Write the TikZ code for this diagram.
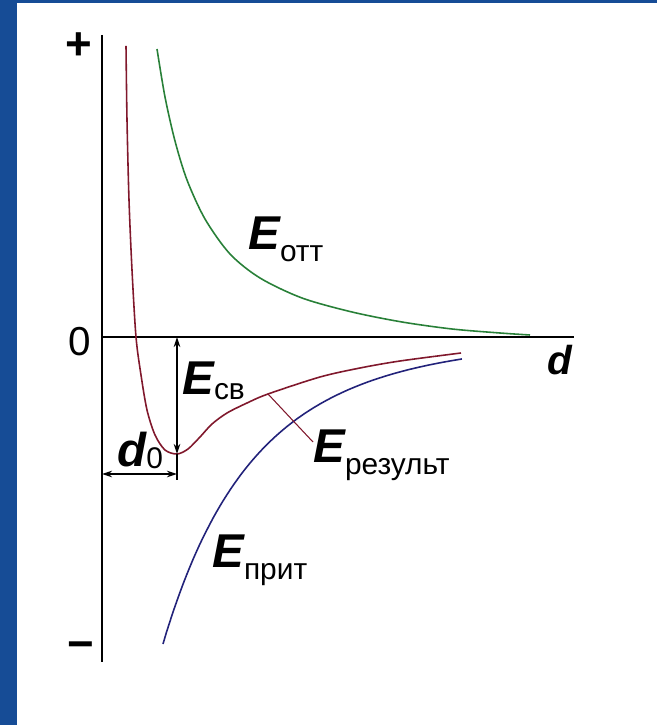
\documentclass[tikz,border=0pt]{standalone}
\usepackage{fontspec}
\setmainfont{Liberation Sans}
\usetikzlibrary{arrows.meta}
\definecolor{fondB}{RGB}{22,76,150}
\definecolor{ottC}{RGB}{40,128,56}
\definecolor{resC}{RGB}{128,24,44}
\definecolor{pritC}{RGB}{34,34,122}
\newcommand{\Egros}{{\fontsize{27}{27}\selectfont\bfseries\itshape E}}
\newcommand{\Eindice}[2]{\Egros\raisebox{-#2}{\fontsize{17}{17}\selectfont #1}}
\tikzset{
  axe/.style={line width=1.1pt, draw=black},
  courbe/.style={line width=0.9pt, draw=#1},
  cote/.style={{Stealth[length=2mm,width=1.3mm]}-{Stealth[length=2mm,width=1.3mm]}, line width=0.7pt},
  etiq/.style={inner sep=0pt, anchor=base west},
  signe/.style={inner sep=0pt, font=\fontsize{26}{26}\selectfont\bfseries},
}
\begin{document}
\begin{tikzpicture}[x=2cm, y=2cm]
  % fond
  \fill[fondB] (-1.02,-3.88) rectangle (5.55,3.37);
  \fill[white] (-0.85,-3.88) rectangle (5.55,3.34);
  \useasboundingbox (-1.02,-3.88) rectangle (5.55,3.37);

  % axes
  \coordinate (o) at (0,0);
  \coordinate (haut) at (0,3.02);
  \coordinate (bas) at (0,-3.25);
  \coordinate (fin) at (4.72,0);
  \draw[axe] (haut) -- (bas);
  \draw[axe] (o) -- (fin);
  \node[signe] (plus) at (-0.23,2.91) {+};
  \node[signe] (moins) at (-0.21,-3.14) {−};
  \node[inner sep=0pt, font=\fontsize{23}{23}\selectfont] (zero) at (-0.22,-0.05) {0};
  \node[inner sep=0pt, font=\fontsize{23}{23}\selectfont\bfseries\itshape] (dd) at (4.58,-0.23) {d};

  % courbes
  \draw[courbe=ottC] plot[smooth] coordinates {(0.55,2.88) (0.63,2.40) (0.73,1.96) (0.85,1.57)
    (1.03,1.18) (1.28,0.83) (1.58,0.59) (2.00,0.39) (2.50,0.25) (3.00,0.15) (3.50,0.08)
    (3.98,0.04) (4.28,0.02)};
  \draw[courbe=resC] plot[smooth] coordinates {(0.24,2.91) (0.25,2.17) (0.27,1.37) (0.30,0.67)
    (0.34,0) (0.39,-0.38) (0.45,-0.73) (0.53,-0.98) (0.63,-1.13) (0.75,-1.17) (0.86,-1.12)
    (0.98,-1.00) (1.10,-0.87) (1.25,-0.76) (1.45,-0.66) (1.66,-0.57) (2.18,-0.40) (2.58,-0.31)
    (2.98,-0.24) (3.59,-0.16)};
  \draw[courbe=pritC] plot[domain=0.61:3.60, samples=90] (\x, {-3.07*pow(5.61/(\x+5),6.17)});

  % cotes
  \coordinate (ecv0) at (0.75,0);
  \coordinate (emin) at (0.75,-1.17);
  \coordinate (trait) at (0.75,-1.43);
  \coordinate (d0g) at (0,-1.37);
  \coordinate (d0d) at (0.75,-1.37);
  \draw[cote] (ecv0) -- (emin);
  \draw[line width=0.7pt] (emin) -- (trait);
  \draw[cote] (d0g) -- (d0d);

  % etiquettes
  \node[etiq] (eott) at (1.46,0.87) {\Eindice{отт}{6.8pt}};
  \node[etiq] (ecv) at (0.80,-0.58) {\Eindice{св}{2.3pt}};
  \node[etiq] (dzero) at (0.15,-1.30) {{\fontsize{27}{27}\selectfont\bfseries\itshape d}\raisebox{-0.6pt}{\fontsize{17}{17}\selectfont 0}};
  \node[etiq] (eres) at (2.11,-1.26) {\Eindice{результ}{6.8pt}};
  \node[etiq] (eprit) at (1.10,-2.30) {\Eindice{прит}{7.3pt}};

  % renvoi
  \coordinate (pres) at (1.66,-0.57);
  \coordinate (pfin) at (2.11,-1.05);
  \draw[resC, line width=0.6pt] (pres) -- (pfin);
\end{tikzpicture}
\end{document}
